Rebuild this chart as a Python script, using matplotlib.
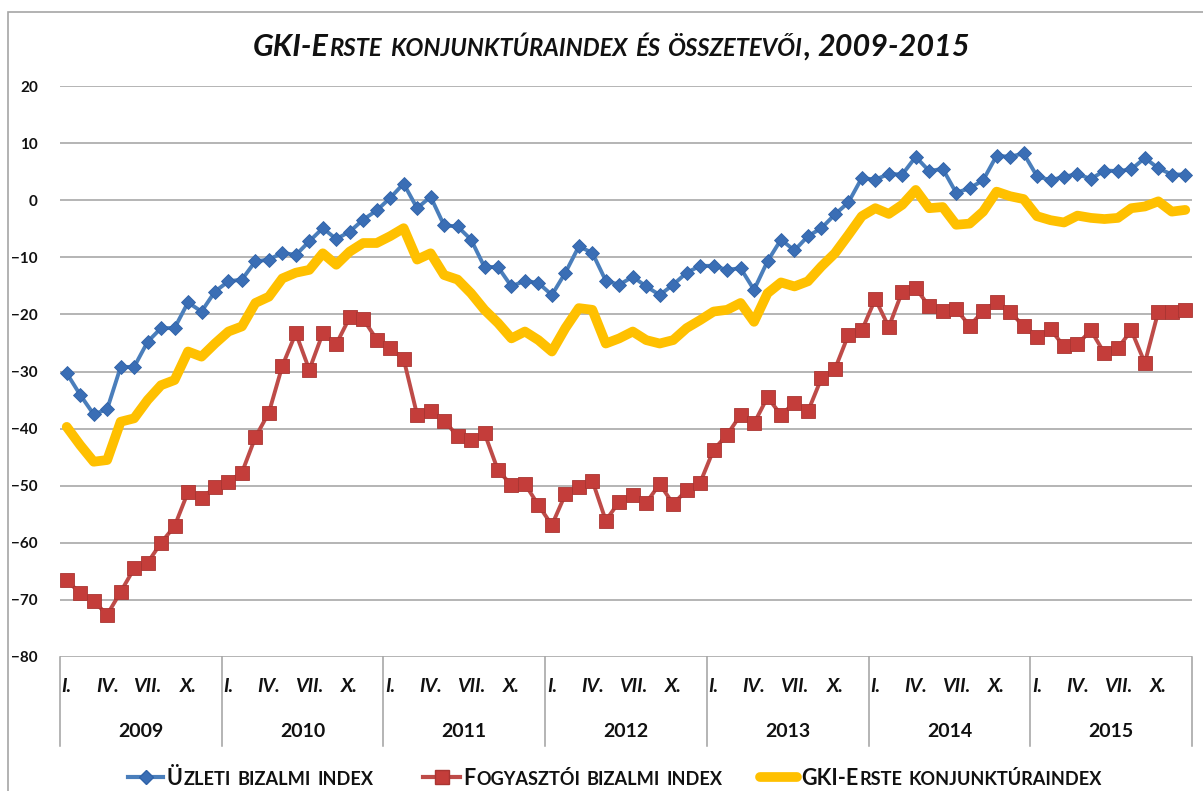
import matplotlib
matplotlib.use("Agg")
import matplotlib.pyplot as plt
from matplotlib.lines import Line2D
from matplotlib.patches import Rectangle
import numpy as np

# havi adatok, 2009. jan - 2015. dec
years = ["2009", "2010", "2011", "2012", "2013", "2014", "2015"]
month_labels = ["I.", "IV.", "VII.", "X."]

uzleti = [-30.3, -34.1, -37.5, -36.6, -29.2, -29.2, -24.8, -22.4, -22.4, -17.9, -19.5, -16.0,
          -14.2, -13.9, -10.7, -10.4, -9.2, -9.6, -7.2, -4.9, -6.8, -5.5, -3.4, -1.8,
          0.4, 2.9, -1.4, 0.6, -4.4, -4.6, -6.9, -11.7, -11.7, -15.1, -14.1, -14.5,
          -16.6, -12.7, -8.1, -9.2, -14.1, -14.8, -13.4, -15.1, -16.6, -14.8, -12.7, -11.5,
          -11.5, -12.2, -11.9, -15.7, -10.7, -6.9, -8.8, -6.3, -4.9, -2.5, -0.4, 3.9,
          3.6, 4.6, 4.5, 7.6, 5.1, 5.5, 1.3, 2.1, 3.5, 7.8, 7.6, 8.2,
          4.2, 3.5, 4.1, 4.6, 3.7, 5.2, 5.1, 5.4, 7.4, 5.6, 4.5, 4.5]

fogyasztoi = [-66.6, -68.8, -70.2, -72.6, -68.6, -64.5, -63.5, -60.0, -57.1, -51.1, -52.2, -50.3,
              -49.3, -47.7, -41.5, -37.2, -29.0, -23.3, -29.7, -23.3, -25.2, -20.5, -20.8, -24.4,
              -25.9, -27.8, -37.6, -36.9, -38.6, -41.3, -42.0, -40.8, -47.3, -49.9, -49.7, -53.4,
              -56.9, -51.5, -50.2, -49.1, -56.1, -52.8, -51.7, -53.0, -49.7, -53.2, -50.8, -49.5,
              -43.7, -41.1, -37.6, -39.1, -34.5, -37.6, -35.5, -37.0, -31.2, -29.6, -23.6, -22.8,
              -17.3, -22.2, -16.0, -15.4, -18.6, -19.4, -19.1, -22.0, -19.4, -17.8, -19.5, -22.1,
              -23.9, -22.6, -25.6, -25.2, -22.8, -26.8, -25.9, -22.8, -28.5, -19.5, -19.5, -19.3]

konjunktura = [-39.7, -42.9, -45.8, -45.5, -38.8, -38.2, -35.0, -32.4, -31.5, -26.5, -27.4, -25.1,
               -23.0, -22.1, -18.0, -16.9, -13.7, -12.7, -12.2, -9.3, -11.3, -9.0, -7.5, -7.5,
               -6.3, -4.9, -10.4, -9.3, -13.1, -13.9, -16.3, -19.2, -21.5, -24.2, -23.0, -24.5,
               -26.5, -22.4, -18.9, -19.2, -25.1, -24.2, -23.0, -24.5, -25.1, -24.5, -22.4, -21.0,
               -19.5, -19.2, -18.0, -21.3, -16.3, -14.4, -15.1, -14.2, -11.6, -9.3, -6.1, -2.8,
               -1.4, -2.4, -0.8, 1.8, -1.4, -1.2, -4.3, -4.1, -2.0, 1.5, 0.7, 0.2,
               -2.8, -3.5, -3.9, -2.7, -3.1, -3.3, -3.1, -1.4, -1.1, -0.2, -2.0, -1.7]

BLUE = "#4A7EBB"
BLUE_M = "#3A6EB5"
RED = "#BE4B48"
RED_M = "#C43D3A"
YELLOW = "#FFC000"
GRID = "#A0A0A0"
TXT = "#111111"

plt.rcParams["font.family"] = ["Lato", "DejaVu Sans"]

W, H = 1203, 791
fig = plt.figure(figsize=(W / 100, H / 100), dpi=100)
fig.patch.set_facecolor("white")
fig.add_artist(Rectangle((8 / W, -0.05), 1.1, 1 - 12 / H + 0.05, transform=fig.transFigure,
                         fill=False, edgecolor="#A6A6A6", linewidth=1.2))

ax = fig.add_axes([60 / W, 1 - 657 / H, (1192 - 60) / W, (657 - 86) / H])
x = np.arange(len(uzleti))

ax.plot(x, konjunktura, color=YELLOW, lw=7, solid_joinstyle="round",
        solid_capstyle="round", zorder=3)
ax.plot(x, fogyasztoi, color=RED, lw=2.8, marker="s", ms=10, mfc=RED_M,
        mec="#A93532", mew=0.6, zorder=4)
ax.plot(x, uzleti, color=BLUE, lw=2.8, marker="D", ms=7.5, mfc=BLUE_M,
        mec="#2F62A8", mew=0.6, zorder=5)

ax.set_xlim(-0.5, len(uzleti) - 0.5)
ax.set_ylim(-80, 20)
ax.set_yticks(np.arange(-80, 21, 10))
ax.yaxis.grid(True, color=GRID, lw=1.1)
ax.set_axisbelow(True)
for s in ax.spines.values():
    s.set_visible(False)
ax.tick_params(axis="y", length=0, pad=16, labelsize=11, labelcolor=TXT)
for lab in ax.get_yticklabels():
    lab.set_fontweight("bold")
ax.set_xticks([])

# kategória tengely: hónapok és évek
tr = ax.get_xaxis_transform()
for k, yr in enumerate(years):
    for j, ml in enumerate(month_labels):
        ax.text(12 * k + 3 * j, -0.051, ml, transform=tr, ha="center", va="center",
                fontsize=14, fontweight="bold", fontstyle="italic", color=TXT)
    ax.text(12 * k + 5.5, -0.131, yr, transform=tr, ha="center", va="center",
            fontsize=14, fontweight="bold", color=TXT)
for k in range(len(years) + 1):
    ax.plot([12 * k - 0.5] * 2, [0, -0.156], transform=tr, color=GRID, lw=1.1,
            clip_on=False)

renderer = fig.canvas.get_renderer()


def smallcaps(xp, yp, s, size, ratio=0.8, ha="left", **kw):
    toks = []
    for ch in s:
        kind = "sp" if ch == " " else ("lo" if ch.islower() else "up")
        if toks and toks[-1][1] == kind:
            toks[-1][0] += ch
        else:
            toks.append([ch, kind])
    a = fig.text(0, 0, "a a", fontsize=size, **kw)
    b = fig.text(0, 0, "aa", fontsize=size, **kw)
    spw = a.get_window_extent(renderer).width - b.get_window_extent(renderer).width
    a.remove()
    b.remove()
    items = []
    for txt, kind in toks:
        if kind == "sp":
            items.append((None, spw * len(txt)))
            continue
        fs = size * ratio if kind == "lo" else size
        t = fig.text(0, 1 - yp / H, txt.upper(), fontsize=fs, va="baseline", color=TXT, **kw)
        items.append((t, t.get_window_extent(renderer).width + 1))
    total = sum(w for _, w in items)
    cur = xp - total / 2 if ha == "center" else xp
    for t, w in items:
        if t is not None:
            t.set_x(cur / W)
        cur += w
    return total


smallcaps(612, 56, "GKI-Erste konjunktúraindex és összetevői, 2009-2015", 22,
          ratio=0.78, ha="center", fontweight="bold", fontstyle="italic")

# jelmagyarázat
ly = 777
legend = [
    (128, 163, 167, dict(color=BLUE, lw=3, marker="D", ms=7.5, mfc=BLUE_M, mec="#2F62A8"),
     "Üzleti bizalmi index"),
    (423, 460, 463, dict(color=RED, lw=3, marker="s", ms=10, mfc=RED_M, mec="#A93532"),
     "Fogyasztói bizalmi index"),
    (760, 797, 801, dict(color=YELLOW, lw=7, solid_capstyle="round"),
     "GKI-Erste konjunktúraindex"),
]
for x0, x1, xt, style, label in legend:
    mk = {k: style.pop(k) for k in ["marker", "ms", "mfc", "mec"] if k in style}
    fig.add_artist(Line2D([x0 / W, x1 / W], [1 - ly / H] * 2, transform=fig.transFigure, **style))
    if mk:
        fig.add_artist(Line2D([(x0 + x1) / 2 / W], [1 - ly / H], transform=fig.transFigure,
                              linestyle="none", marker=mk["marker"], ms=mk["ms"],
                              mfc=mk["mfc"], mec=mk["mec"]))
    smallcaps(xt, 785, label, 15.5, ratio=0.84, fontweight="bold")

fig.savefig("out.png", dpi=100)
